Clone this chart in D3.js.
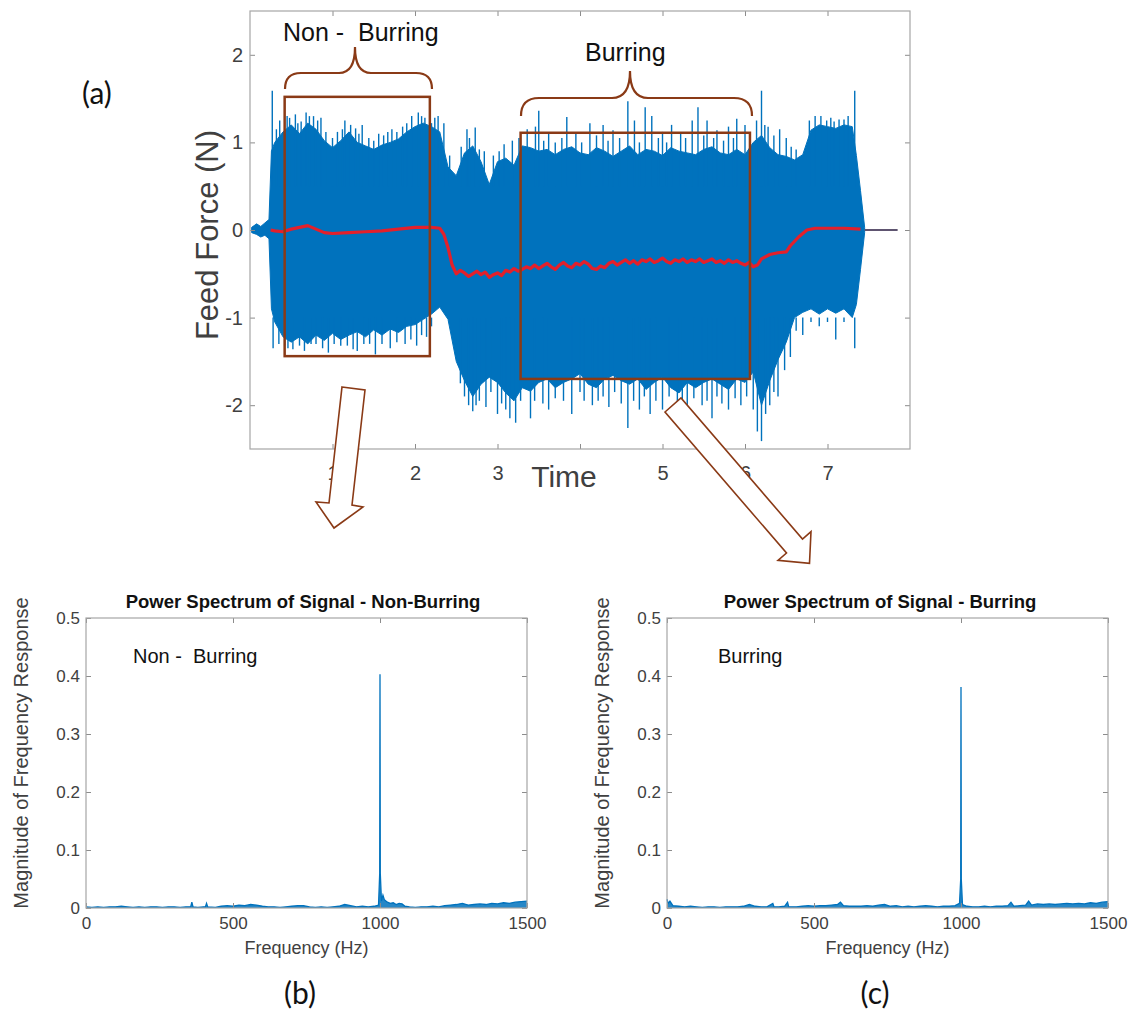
<!DOCTYPE html>
<html>
<head>
<meta charset="utf-8">
<script src="https://cdn.jsdelivr.net/npm/d3@7/dist/d3.min.js"></script>
<style>
  body { margin: 0; background: #fff; }
  svg text { font-family: "Liberation Sans", Arial, sans-serif; }
</style>
</head>
<body>
<svg id="fig" width="1137" height="1017"></svg>
<script>
// ---------- data ----------
// (a) feed force signal: envelope of the raw signal
var sigTime  = [0.02, 0.08, 0.13, 0.18, 0.23, 0.26, 0.3, 0.4, 0.5, 0.6, 0.7, 0.8, 0.9, 1.0, 1.1, 1.2, 1.3, 1.4, 1.5, 1.6, 1.7, 1.8, 1.9, 2.0, 2.1, 2.2, 2.3, 2.4, 2.5, 2.6, 2.7, 2.8, 2.9, 3.0, 3.1, 3.2, 3.3, 3.4, 3.5, 3.6, 3.7, 3.8, 3.9, 4.0, 4.1, 4.2, 4.3, 4.4, 4.5, 4.6, 4.7, 4.8, 4.9, 5.0, 5.1, 5.2, 5.3, 5.4, 5.5, 5.6, 5.7, 5.8, 5.9, 6.0, 6.1, 6.2, 6.3, 6.4, 6.5, 6.6, 6.7, 6.8, 6.9, 7.0, 7.1, 7.2, 7.3, 7.35, 7.4, 7.45];
var sigUpper = [0.03, 0.07, 0.04, 0.08, 0.12, 0.9, 1.00, 1.12, 1.20, 1.10, 1.22, 1.15, 1.02, 0.94, 1.02, 1.12, 1.00, 0.96, 0.92, 0.97, 1.00, 1.04, 1.12, 1.18, 1.22, 1.18, 1.12, 0.72, 0.62, 0.88, 0.96, 0.78, 0.52, 0.78, 0.82, 0.74, 0.96, 0.94, 0.90, 0.92, 0.86, 0.92, 0.95, 0.88, 0.86, 0.94, 0.90, 0.84, 0.90, 0.96, 0.86, 0.92, 0.90, 0.85, 0.94, 0.90, 0.88, 0.86, 0.92, 0.95, 0.88, 0.86, 0.92, 0.86, 1.00, 1.08, 0.94, 0.86, 0.84, 0.80, 0.86, 1.14, 1.20, 1.18, 1.16, 1.20, 1.18, 0.85, 0.45, 0.03];
var sigLower = [-0.03, -0.05, -0.08, -0.06, -0.10, -0.9, -1.05, -1.22, -1.28, -1.22, -1.30, -1.20, -1.26, -1.18, -1.25, -1.20, -1.16, -1.22, -1.14, -1.20, -1.13, -1.17, -1.10, -1.08, -1.02, -0.96, -0.88, -1.02, -1.50, -1.72, -1.90, -1.76, -1.68, -1.74, -1.86, -1.95, -1.80, -1.84, -1.74, -1.70, -1.80, -1.74, -1.70, -1.64, -1.76, -1.80, -1.70, -1.66, -1.72, -1.76, -1.70, -1.82, -1.74, -1.68, -1.80, -1.86, -1.74, -1.80, -1.74, -1.70, -1.76, -1.82, -1.70, -1.74, -1.62, -2.00, -1.72, -1.48, -1.28, -1.00, -0.94, -0.90, -0.96, -0.90, -0.95, -0.90, -1.00, -0.85, -0.45, -0.03];

// single peaks sticking out of the envelope
var spikeUpTime = [0.27, 0.36, 0.45, 0.55, 0.62, 0.68, 0.77, 0.86, 1.06, 1.15, 1.28, 1.36, 1.56, 1.72, 1.85, 1.96, 2.04, 2.12, 2.2, 2.28, 2.35, 2.56, 2.63, 2.73, 2.84, 3.08, 3.18, 3.36, 3.46, 3.5, 3.62, 3.84, 3.95, 4.12, 4.28, 4.4, 4.58, 4.66, 4.79, 4.87, 5.0, 5.11, 5.22, 5.36, 5.43, 5.54, 5.66, 5.8, 5.9, 6.0, 6.14, 6.2, 6.28, 6.42, 6.5, 6.85, 6.99, 7.08, 7.2, 7.33,
  0.32, 0.48, 0.58, 0.72, 0.82, 0.92, 1.0, 1.12, 1.22, 1.32, 1.44, 1.5, 1.62, 1.67, 1.78, 1.9, 2.08, 2.24, 2.42, 2.66, 2.78, 2.95, 3.02, 3.26, 3.56, 3.7, 3.78, 4.02, 4.2, 4.34, 4.48, 4.72, 4.95, 5.05, 5.28, 5.5, 5.62, 5.74, 5.86, 6.06, 6.24, 6.35, 6.56, 6.62, 6.78, 6.92, 7.04, 7.14, 7.25];
var spikeUpVal  = [1.59, 1.25, 1.30, 1.32, 1.24, 1.34, 1.30, 1.28, 1.12, 1.25, 1.16, 1.20, 1.10, 1.15, 1.18, 1.30, 1.34, 1.28, 1.22, 1.30, 1.22, 0.95, 1.15, 1.17, 0.90, 0.98, 1.02, 1.15, 1.18, 1.36, 1.10, 1.29, 1.12, 1.22, 1.20, 1.14, 1.47, 1.25, 1.40, 1.30, 1.12, 1.20, 1.10, 1.25, 1.40, 1.25, 1.14, 1.18, 1.27, 1.20, 1.25, 1.59, 1.18, 1.15, 1.05, 1.30, 1.25, 1.24, 1.26, 1.59,
  1.15, 1.28, 1.22, 1.30, 1.25, 1.12, 1.05, 1.15, 1.20, 1.10, 1.05, 1.02, 1.08, 1.12, 1.12, 1.22, 1.30, 1.28, 0.85, 1.05, 0.92, 0.85, 0.90, 1.05, 1.02, 1.00, 1.05, 1.00, 1.08, 1.02, 1.05, 1.00, 1.05, 1.00, 1.05, 1.08, 1.05, 1.02, 1.05, 1.10, 1.20, 1.08, 0.95, 0.92, 1.25, 1.30, 1.28, 1.26, 1.30];
var spikeDnTime = [0.28, 0.42, 0.52, 0.66, 0.74, 0.95, 1.1, 1.3, 1.45, 1.52, 1.7, 1.88, 2.02, 2.14, 2.55, 2.65, 2.7, 2.78, 2.86, 3.0, 3.1, 3.15, 3.22, 3.4, 3.55, 3.62, 3.9, 4.05, 4.15, 4.35, 4.5, 4.58, 4.72, 4.85, 5.0, 5.18, 5.3, 5.48, 5.6, 5.72, 5.8, 5.95, 6.1, 6.15, 6.2, 6.3, 6.4, 6.55, 6.7, 6.9, 7.1, 7.33,
  0.35, 0.46, 0.6, 0.8, 0.88, 1.02, 1.18, 1.25, 1.38, 1.6, 1.78, 1.95, 2.08, 2.2, 2.6, 2.74, 2.92, 3.05, 3.28, 3.45, 3.7, 3.8, 4.0, 4.22, 4.28, 4.42, 4.65, 4.78, 4.92, 5.08, 5.24, 5.38, 5.54, 5.66, 5.88, 6.02, 6.25, 6.35, 6.48, 6.62, 6.8, 7.0, 7.2];
var spikeDnVal  = [-1.35, -1.32, -1.36, -1.38, -1.30, -1.40, -1.32, -1.38, -1.30, -1.42, -1.35, -1.30, -1.32, -1.22, -1.75, -2.00, -2.07, -1.95, -2.02, -2.10, -2.05, -2.15, -2.20, -2.15, -1.98, -2.05, -2.10, -1.95, -2.00, -2.02, -1.98, -2.26, -2.05, -2.10, -2.05, -1.96, -2.10, -2.00, -2.15, -1.98, -2.05, -2.00, -2.05, -2.30, -2.41, -2.00, -1.90, -1.45, -1.20, -1.10, -1.25, -1.35,
  -1.30, -1.35, -1.32, -1.30, -1.35, -1.30, -1.32, -1.36, -1.30, -1.30, -1.28, -1.25, -1.20, -1.10, -1.90, -2.00, -1.85, -1.98, -1.95, -1.95, -1.92, -1.95, -1.85, -1.95, -1.90, -1.85, -1.95, -1.90, -1.95, -1.90, -2.00, -1.92, -1.95, -1.90, -1.92, -1.90, -2.10, -1.85, -1.60, -1.15, -1.05, -1.05, -1.05];

// moving mean (red)
var meanTime = [0.25, 0.3, 0.4, 0.5, 0.6, 0.7, 0.8, 0.9, 1.0, 1.2, 1.4, 1.6, 1.8, 2.0, 2.2, 2.3, 2.35, 2.4, 2.45,
  2.5, 2.55, 2.6, 2.65, 2.7, 2.75, 2.8, 2.85, 2.9, 2.95,
  3.0, 3.05, 3.1, 3.15, 3.2, 3.25, 3.3, 3.35, 3.4, 3.45,
  3.5, 3.55, 3.6, 3.65, 3.7, 3.75, 3.8, 3.85, 3.9, 3.95,
  4.0, 4.05, 4.1, 4.15, 4.2, 4.25, 4.3, 4.35, 4.4, 4.45,
  4.5, 4.55, 4.6, 4.65, 4.7, 4.75, 4.8, 4.85, 4.9, 4.95,
  5.0, 5.05, 5.1, 5.15, 5.2, 5.25, 5.3, 5.35, 5.4, 5.45,
  5.5, 5.55, 5.6, 5.65, 5.7, 5.75, 5.8, 5.85, 5.9, 5.95,
  6.0, 6.05, 6.1, 6.15,
  6.2, 6.3, 6.4, 6.5, 6.55, 6.65, 6.75, 6.85, 7.0, 7.2, 7.4];
var meanVal  = [0.00, -0.01, -0.02, 0.01, 0.03, 0.05, 0.01, -0.03, -0.04, -0.03, -0.02, -0.01, 0.01, 0.03, 0.03, 0.02, -0.05, -0.20, -0.40,
  -0.50, -0.46, -0.49, -0.53, -0.50, -0.47, -0.51, -0.48, -0.54, -0.51,
  -0.49, -0.52, -0.46, -0.48, -0.44, -0.47, -0.45, -0.42, -0.44, -0.40,
  -0.44, -0.41, -0.38, -0.42, -0.45, -0.40, -0.37, -0.41, -0.43, -0.38,
  -0.40, -0.36, -0.39, -0.44, -0.45, -0.41, -0.43, -0.38, -0.36, -0.40,
  -0.37, -0.34, -0.38, -0.35, -0.39, -0.34, -0.36, -0.33, -0.37, -0.35,
  -0.32, -0.36, -0.38, -0.34, -0.36, -0.33, -0.37, -0.34, -0.36, -0.33,
  -0.37, -0.35, -0.33, -0.37, -0.35, -0.38, -0.34, -0.37, -0.35, -0.38,
  -0.40, -0.37, -0.42, -0.40,
  -0.33, -0.28, -0.26, -0.25, -0.18, -0.08, 0.00, 0.02, 0.02, 0.02, 0.01];

// flat tail after the cut
var tailTime = [7.45, 7.85];
var tailVal  = [0, 0];

var timeTicks  = [1, 2, 3, 4, 5, 6, 7];
var forceTicks = [-2, -1, 0, 1, 2];

// (b) power spectrum, non-burring
var freqB = [0, 20, 40, 60, 80, 100, 120, 140, 160, 180, 200, 220, 240, 260, 280, 300, 320, 340, 356, 360, 364, 380, 400, 406, 410, 414, 440, 460, 480, 500, 520, 540, 560, 580, 600, 620, 640, 660, 680, 700, 720, 740, 760, 780, 800, 820, 840, 860, 880, 900, 920, 940, 960, 980, 995, 999, 1000, 1001, 1005, 1010, 1015, 1025, 1035, 1045, 1055, 1065, 1075, 1085, 1100, 1120, 1140, 1160, 1180, 1200, 1220, 1240, 1260, 1280, 1300, 1320, 1340, 1360, 1380, 1400, 1420, 1440, 1460, 1480, 1500];
var magB  = [0.002, 0.001, 0.002, 0.001, 0.002, 0.002, 0.003, 0.002, 0.001, 0.002, 0.001, 0.002, 0.002, 0.001, 0.002, 0.002, 0.001, 0.002, 0.002, 0.010, 0.002, 0.001, 0.002, 0.002, 0.008, 0.002, 0.001, 0.003, 0.004, 0.003, 0.005, 0.004, 0.006, 0.005, 0.003, 0.002, 0.002, 0.001, 0.002, 0.003, 0.004, 0.004, 0.002, 0.001, 0.002, 0.001, 0.002, 0.003, 0.006, 0.004, 0.002, 0.003, 0.002, 0.003, 0.005, 0.06, 0.403, 0.06, 0.012, 0.022, 0.014, 0.010, 0.008, 0.009, 0.006, 0.008, 0.007, 0.003, 0.002, 0.001, 0.002, 0.002, 0.003, 0.002, 0.004, 0.005, 0.006, 0.008, 0.005, 0.006, 0.007, 0.006, 0.008, 0.007, 0.009, 0.008, 0.010, 0.011, 0.012];

// (c) power spectrum, burring
var freqC = [0, 4, 10, 20, 40, 60, 80, 100, 120, 140, 160, 180, 200, 220, 240, 260, 280, 300, 320, 340, 360, 364, 380, 400, 410, 414, 440, 460, 480, 500, 520, 540, 560, 580, 590, 600, 620, 640, 660, 680, 700, 720, 740, 760, 780, 800, 820, 840, 860, 880, 900, 920, 940, 960, 980, 995, 999, 1000, 1001, 1005, 1020, 1040, 1060, 1080, 1100, 1120, 1140, 1160, 1170, 1180, 1200, 1220, 1230, 1240, 1260, 1280, 1300, 1320, 1340, 1360, 1380, 1400, 1420, 1440, 1460, 1480, 1500];
var magC  = [0.015, 0.008, 0.012, 0.004, 0.003, 0.002, 0.003, 0.002, 0.001, 0.002, 0.002, 0.001, 0.002, 0.002, 0.002, 0.003, 0.006, 0.003, 0.002, 0.002, 0.008, 0.002, 0.002, 0.003, 0.010, 0.002, 0.002, 0.003, 0.004, 0.003, 0.004, 0.004, 0.005, 0.006, 0.010, 0.004, 0.003, 0.003, 0.003, 0.004, 0.003, 0.005, 0.006, 0.003, 0.004, 0.002, 0.003, 0.002, 0.003, 0.004, 0.003, 0.002, 0.003, 0.003, 0.004, 0.008, 0.05, 0.381, 0.05, 0.006, 0.003, 0.002, 0.002, 0.003, 0.002, 0.003, 0.003, 0.004, 0.010, 0.003, 0.004, 0.005, 0.012, 0.005, 0.007, 0.006, 0.007, 0.006, 0.007, 0.008, 0.007, 0.008, 0.007, 0.009, 0.008, 0.010, 0.011];

var freqTicks = [0, 500, 1000, 1500];
var magTicks  = [0, 0.1, 0.2, 0.3, 0.4, 0.5];

// ---------- drawing ----------
var svg = d3.select("#fig");
var blue = "#0072BD";
var brown = "#8a3a16";

// box with inward ticks on all four sides, MATLAB style
function drawFrame(g, x, y, xt, yt, xfmt, yfmt, fs, padX, padY) {
  var x0 = x.range()[0], x1 = x.range()[1], y0 = y.range()[0], y1 = y.range()[1];
  var axes = [
    g.append("g").attr("transform", "translate(0," + y0 + ")")
      .call(d3.axisBottom(x).tickValues(xt).tickSizeInner(-5).tickSizeOuter(0).tickPadding(padX).tickFormat(xfmt)),
    g.append("g").attr("transform", "translate(0," + y1 + ")")
      .call(d3.axisTop(x).tickValues(xt).tickSizeInner(-5).tickSizeOuter(0).tickFormat("")),
    g.append("g").attr("transform", "translate(" + x0 + ",0)")
      .call(d3.axisLeft(y).tickValues(yt).tickSizeInner(-5).tickSizeOuter(0).tickPadding(padY).tickFormat(yfmt)),
    g.append("g").attr("transform", "translate(" + x1 + ",0)")
      .call(d3.axisRight(y).tickValues(yt).tickSizeInner(-5).tickSizeOuter(0).tickFormat(""))
  ];
  axes.forEach(function (a) {
    a.select(".domain").remove();
    a.selectAll("line").attr("stroke", "#8c8c8c");
    a.selectAll("text").attr("fill", "#404040").style("font-size", fs + "px")
      .style("font-family", "'Liberation Sans', Arial, sans-serif");
  });
  g.append("rect")
    .attr("x", x0).attr("y", y1)
    .attr("width", x1 - x0).attr("height", y0 - y1)
    .attr("fill", "none").attr("stroke", "#a6a6a6").attr("stroke-width", 1.2);
}

// ===== (a) feed force =====
var xT = d3.scaleLinear().domain([0, 8]).range([250, 910]);
var yT = d3.scaleLinear().domain([-2.5, 2.5]).range([449, 11]);
var gA = svg.append("g");

var idx = sigTime.map(function (t, i) { return i; });
gA.append("path")
  .datum(idx)
  .attr("d", d3.area()
    .x(function (i) { return xT(sigTime[i]); })
    .y0(function (i) { return yT(sigLower[i]); })
    .y1(function (i) { return yT(sigUpper[i]); }))
  .attr("fill", blue)
  .attr("stroke", blue).attr("stroke-width", 1);

gA.selectAll(".spUp")
  .data(spikeUpTime)
  .enter().append("line")
  .attr("x1", function (t) { return xT(t); })
  .attr("x2", function (t) { return xT(t); })
  .attr("y1", yT(0.5))
  .attr("y2", function (t, i) { return yT(spikeUpVal[i]); })
  .attr("stroke", blue).attr("stroke-width", 1.4);

gA.selectAll(".spDn")
  .data(spikeDnTime)
  .enter().append("line")
  .attr("x1", function (t) { return xT(t); })
  .attr("x2", function (t) { return xT(t); })
  .attr("y1", yT(-1))
  .attr("y2", function (t, i) { return yT(spikeDnVal[i]); })
  .attr("stroke", blue).attr("stroke-width", 1.4);

gA.append("path")
  .datum(tailTime.map(function (t, i) { return [t, tailVal[i]]; }))
  .attr("d", d3.line().x(function (d) { return xT(d[0]); }).y(function (d) { return yT(d[1]); }))
  .attr("fill", "none").attr("stroke", "#5e5470").attr("stroke-width", 2);

gA.append("path")
  .datum(meanTime.map(function (t, i) { return [t, meanVal[i]]; }))
  .attr("d", d3.line().x(function (d) { return xT(d[0]); }).y(function (d) { return yT(d[1]); }))
  .attr("fill", "none").attr("stroke", "#e3202b").attr("stroke-width", 3.2)
  .attr("stroke-linejoin", "round");

drawFrame(gA, xT, yT, timeTicks, forceTicks,
  function (d) { return d === 4 ? "" : String(d); },
  function (d) { return String(d); }, 20, 17, 7);

gA.append("text").attr("x", 564).attr("y", 487).attr("text-anchor", "middle")
  .attr("fill", "#404040").style("font-size", "30px").text("Time");
gA.append("text").attr("transform", "translate(218,235) rotate(-90)")
  .attr("text-anchor", "middle").attr("fill", "#404040").style("font-size", "31px")
  .text("Feed Force (N)");

// annotation boxes (in data units)
var regionName = ["Non -  Burring", "Burring"];
var regionT0 = [0.42, 3.28], regionT1 = [2.18, 6.06];
var regionTop = [1.52, 1.11], regionBot = [-1.44, -1.70];
regionName.forEach(function (n, i) {
  gA.append("rect")
    .attr("x", xT(regionT0[i])).attr("y", yT(regionTop[i]))
    .attr("width", xT(regionT1[i]) - xT(regionT0[i]))
    .attr("height", yT(regionBot[i]) - yT(regionTop[i]))
    .attr("fill", "none").attr("stroke", brown).attr("stroke-width", 2.5);
});

// curly braces above the boxes
function brace(x0, x1, xc, y0, ym, yt, r) {
  return "M" + x0 + "," + y0 + " Q" + x0 + "," + ym + " " + (x0 + r) + "," + ym +
    " L" + (xc - r) + "," + ym + " Q" + xc + "," + ym + " " + xc + "," + yt +
    " Q" + xc + "," + ym + " " + (xc + r) + "," + ym +
    " L" + (x1 - r) + "," + ym + " Q" + x1 + "," + ym + " " + x1 + "," + y0;
}
gA.append("path").attr("d", brace(285, 432, 355, 89, 73, 47, 16))
  .attr("fill", "none").attr("stroke", brown).attr("stroke-width", 2.2);
gA.append("path").attr("d", brace(521, 752, 630, 116, 98, 71, 18))
  .attr("fill", "none").attr("stroke", brown).attr("stroke-width", 2.2);

gA.append("text").attr("x", 283).attr("y", 41).style("white-space", "pre")
  .attr("fill", "#111").style("font-size", "25px").text(regionName[0]);
gA.append("text").attr("x", 585).attr("y", 61)
  .attr("fill", "#111").style("font-size", "25px").text(regionName[1]);

// hollow arrows pointing to the spectra
var arrows = [
  [[342, 387], [365, 390], [352, 505], [363, 507], [334, 528], [316, 502], [329, 503]],
  [[665, 412], [681, 398], [802.5, 539], [811, 531.6], [809.5, 563.4], [778, 560.4], [786.5, 553]]
];
svg.selectAll(".arrow")
  .data(arrows)
  .enter().append("polygon")
  .attr("points", function (d) { return d.map(function (p) { return p.join(","); }).join(" "); })
  .attr("fill", "#fff").attr("stroke", brown).attr("stroke-width", 1.6);

svg.append("text").attr("x", 82).attr("y", 104)
  .style("font-family", "Lato, 'Open Sans', sans-serif").style("font-size", "30px")
  .attr("fill", "#111").text("(a)");

// ===== (b) and (c) spectra =====
function drawSpectrum(x0, x1, freq, mag, title, titleX, note, noteX, tag, tagX) {
  var x = d3.scaleLinear().domain([0, 1500]).range([x0, x1]);
  var y = d3.scaleLinear().domain([0, 0.5]).range([908, 618]);
  var g = svg.append("g");
  var pts = freq.map(function (f, i) { return [f, mag[i]]; });
  g.append("path").datum(pts)
    .attr("d", d3.area().x(function (d) { return x(d[0]); }).y0(y(0)).y1(function (d) { return y(d[1]); }))
    .attr("fill", blue).attr("opacity", 0.85);
  g.append("path").datum(pts)
    .attr("d", d3.line().x(function (d) { return x(d[0]); }).y(function (d) { return y(d[1]); }))
    .attr("fill", "none").attr("stroke", blue).attr("stroke-width", 1.3);

  drawFrame(g, x, y, freqTicks, magTicks,
    function (d) { return String(d); },
    function (d) { return d === 0 ? "0" : d3.format(".1f")(d); }, 17, 9, 6);

  g.append("text").attr("x", titleX).attr("y", 608).attr("text-anchor", "middle")
    .attr("fill", "#111").style("font-size", "18.5px").style("font-weight", "bold").text(title);
  g.append("text").attr("x", noteX).attr("y", 663).style("white-space", "pre")
    .attr("fill", "#111").style("font-size", "20px").text(note);
  g.append("text").attr("x", (x0 + x1) / 2).attr("y", 954).attr("text-anchor", "middle")
    .attr("fill", "#404040").style("font-size", "18px").text("Frequency (Hz)");
  g.append("text").attr("transform", "translate(" + (x0 - 58) + ",753) rotate(-90)")
    .attr("text-anchor", "middle").attr("fill", "#404040").style("font-size", "20px")
    .text("Magnitude of Frequency Response");
  svg.append("text").attr("x", tagX).attr("y", 1004).attr("text-anchor", "middle")
    .style("font-family", "Lato, 'Open Sans', sans-serif").style("font-size", "30px")
    .attr("fill", "#111").text(tag);
}

drawSpectrum(86, 527, freqB, magB, "Power Spectrum of Signal - Non-Burring", 303, "Non -  Burring", 133, "(b)", 300);
drawSpectrum(667, 1108, freqC, magC, "Power Spectrum of Signal - Burring", 880, "Burring", 718, "(c)", 875);
</script>
</body>
</html>
